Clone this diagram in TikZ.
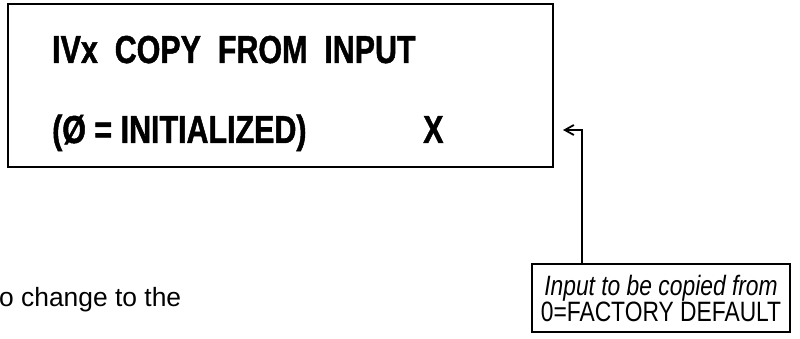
\documentclass[tikz,border=0pt]{standalone}
\usepackage{fontspec}
\setmainfont{Liberation Sans}
\newfontfamily\panelfont[FakeStretch=0.78, FakeBold=1.2]{Liberation Sans Bold}
\newfontfamily\notefont[FakeStretch=0.815]{Liberation Sans}
\usetikzlibrary{arrows.meta, positioning, calc}
\tikzset{
    >={Straight Barb[length=9pt,width=10pt]},
    % Shapes
    panel/.style={rectangle, draw, line width=2pt, minimum width=545pt, minimum height=163pt, inner sep=0pt},
    noteBox/.style={rectangle, draw, line width=1.8pt, minimum width=258pt, minimum height=68pt,
                    align=center, inner sep=0pt, font=\notefont\fontsize{28}{26}\selectfont},
    % Text
    panelText/.style={anchor=base west, inner sep=0pt, font=\panelfont\fontsize{39}{39}\selectfont},
    bodyText/.style={anchor=base west, inner sep=0pt, font=\fontsize{26.4}{26.4}\selectfont},
    % Flow
    flow/.style={->, line width=1.8pt}
}

\begin{document}
\begin{tikzpicture}[x=1pt, y=-1pt]
\useasboundingbox (0,0) rectangle (800,339);

\node[panel] (panel) at (280.5,85.5) {};
\node[panelText] (line1) at (52,63) {IVx\ \ COPY\ \ FROM\ \ INPUT};
\node[panelText] (line2) at (52,143) {(Ø = INITIALIZED)};
\node[panelText] (value) at (423,143) {X};

\node[noteBox] (note) at (661,298) {{\itshape Input to be copied from}\\0=FACTORY DEFAULT};
\node[bodyText] (body) at (-1,306) {o change to the};

\coordinate (tip) at ($(panel.east |- {(0,130)})+(9,0)$);
\draw[flow] ($(note.north west)+(51,0)$) |- (tip);

\end{tikzpicture}
\end{document}
